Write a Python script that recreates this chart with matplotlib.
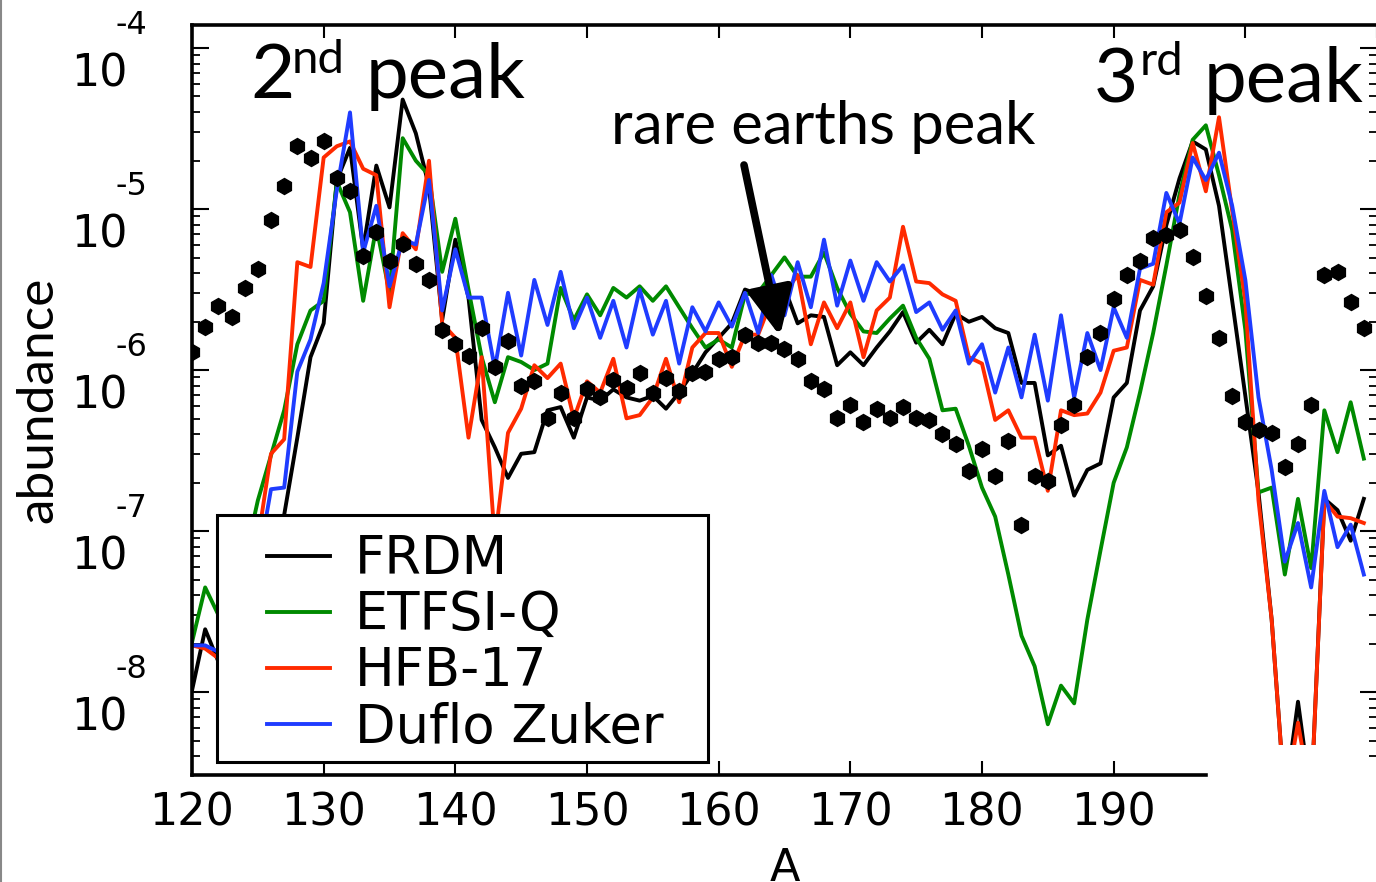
#!/usr/bin/env python3
"""
r-process abundance pattern, A = 120-209, four mass models vs solar
"""

import numpy as np
import matplotlib
matplotlib.use('Agg')
import matplotlib.pyplot as plt
import matplotlib.transforms as mtransforms
from matplotlib.patches import Rectangle
from matplotlib.lines import Line2D
from matplotlib.ticker import LogLocator, NullFormatter

# mass number A, one value per nucleus
mass_number = np.arange(120, 210)

# log10(abundance), A = 120 ... 209
solar_log10 = [
    -5.89, -5.73, -5.60, -5.67, -5.49, -5.37, -5.07, -4.86, -4.61, -4.68,
    -4.58, -4.81, -4.89, -5.29, -5.14, -5.32, -5.22, -5.34, -5.44, -5.75,
    -5.84, -5.91, -5.74, -5.98, -5.82, -6.10, -6.07, -6.30, -6.14, -6.30,
    -6.12, -6.17, -6.06, -6.11, -6.02, -6.14, -6.05, -6.13, -6.02, -6.01,
    -5.93, -5.92, -5.78, -5.83, -5.83, -5.87, -5.93, -6.07, -6.12, -6.30,
    -6.22, -6.32, -6.24, -6.30, -6.23, -6.30, -6.31, -6.40, -6.46, -6.63,
    -6.49, -6.66, -6.44, -6.96, -6.66, -6.69, -6.34, -6.22, -5.92, -5.77,
    -5.56, -5.41, -5.32, -5.18, -5.16, -5.13, -5.30, -5.54, -5.80, -6.16,
    -6.32, -6.37, -6.39, -6.60, -6.46, -6.22, -5.41, -5.39, -5.58, -5.74,
]

frdm_log10 = [
    -7.99, -7.61, -7.81, -7.77, -7.68, -7.49, -7.21, -6.90, -6.42, -5.92,
    -5.71, -4.82, -4.62, -5.25, -4.73, -4.99, -4.32, -4.53, -4.86, -5.69,
    -5.19, -5.55, -6.31, -6.48, -6.67, -6.52, -6.51, -6.25, -6.23, -6.42,
    -6.17, -6.19, -6.12, -6.17, -6.19, -6.16, -6.24, -6.14, -6.02, -5.89,
    -5.80, -5.71, -5.50, -5.53, -5.55, -5.49, -5.71, -5.66, -5.67, -5.97,
    -5.89, -5.97, -5.86, -5.76, -5.64, -5.83, -5.75, -5.84, -5.65, -5.70,
    -5.67, -5.74, -5.77, -6.08, -6.08, -6.53, -6.47, -6.78, -6.62, -6.58,
    -6.17, -6.08, -5.63, -5.48, -5.10, -4.81, -4.58, -4.63, -4.98, -5.57,
    -6.16, -6.76, -7.55, -8.67, -8.06, -8.67, -6.80, -6.87, -7.06, -6.80,
]

etfsi_q_log10 = [
    -7.69, -7.35, -7.52, -7.43, -7.18, -6.81, -6.53, -6.25, -5.84, -5.63,
    -5.57, -4.83, -5.02, -5.57, -5.11, -5.52, -4.56, -4.70, -4.79, -5.39,
    -5.06, -5.50, -5.92, -6.20, -5.92, -5.95, -6.00, -5.96, -5.49, -5.69,
    -5.53, -5.66, -5.49, -5.55, -5.48, -5.57, -5.48, -5.61, -5.74, -5.86,
    -5.81, -5.86, -5.53, -5.52, -5.41, -5.30, -5.42, -5.42, -5.27, -5.49,
    -5.65, -5.76, -5.77, -5.68, -5.60, -5.80, -5.93, -6.25, -6.24, -6.47,
    -6.73, -6.91, -7.27, -7.65, -7.84, -8.20, -7.96, -8.07, -7.55, -7.12,
    -6.70, -6.48, -6.14, -5.77, -5.35, -4.91, -4.57, -4.48, -4.79, -5.13,
    -5.75, -6.76, -6.73, -7.27, -6.80, -7.23, -6.25, -6.51, -6.20, -6.55,
]

hfb17_log10 = [
    -7.71, -7.73, -7.79, -7.68, -7.37, -7.06, -6.52, -6.43, -5.33, -5.36,
    -4.68, -4.61, -4.58, -4.75, -4.79, -5.61, -5.15, -5.25, -4.70, -5.71,
    -5.80, -6.42, -5.92, -7.06, -6.39, -6.24, -5.97, -6.05, -5.96, -6.30,
    -6.07, -6.14, -5.93, -6.30, -6.28, -6.17, -5.93, -6.20, -5.86, -5.77,
    -5.77, -5.98, -5.78, -5.78, -5.57, -5.52, -5.41, -5.84, -5.58, -5.74,
    -5.58, -5.92, -5.63, -5.55, -5.11, -5.45, -5.46, -5.53, -5.57, -5.92,
    -5.96, -6.31, -6.25, -6.42, -6.42, -6.75, -6.25, -6.28, -6.27, -6.14,
    -5.88, -5.86, -5.44, -5.47, -5.02, -4.96, -4.59, -4.89, -4.43, -5.01,
    -5.57, -6.81, -7.55, -8.67, -8.19, -8.67, -6.81, -6.91, -6.92, -6.95,
]

duflo_zuker_log10 = [
    -7.71, -7.71, -7.75, -7.68, -7.49, -7.21, -6.74, -6.73, -6.01, -5.81,
    -5.46, -4.88, -4.40, -5.27, -4.98, -5.48, -5.19, -5.22, -4.82, -5.63,
    -5.25, -5.55, -5.55, -5.99, -5.52, -5.91, -5.44, -5.72, -5.39, -5.74,
    -5.55, -5.80, -5.57, -5.86, -5.50, -5.78, -5.57, -5.96, -5.61, -5.76,
    -5.58, -5.73, -5.52, -5.77, -5.41, -5.66, -5.33, -5.61, -5.19, -5.60,
    -5.32, -5.57, -5.33, -5.45, -5.35, -5.64, -5.58, -5.75, -5.63, -5.96,
    -5.84, -6.14, -5.86, -6.17, -5.78, -6.19, -5.66, -6.17, -5.77, -6.00,
    -5.61, -5.80, -5.37, -5.34, -4.90, -5.09, -4.68, -4.82, -4.65, -4.98,
    -5.44, -6.17, -6.62, -7.19, -6.95, -7.35, -6.75, -7.10, -6.96, -7.27,
]

model_names = ['FRDM', 'ETFSI-Q', 'HFB-17', 'Duflo Zuker']
model_values = [frdm_log10, etfsi_q_log10, hfb17_log10, duflo_zuker_log10]
model_colors = ['#000000', '#008a00', '#ff2a00', '#1f3cff']

x_ticks = [120, 130, 140, 150, 160, 170, 180, 190]
top_ticks = [120, 130, 140, 150, 160, 170, 180, 190, 200, 210]
y_decades = [-8, -7, -6, -5, -4]

W, H = 1376, 882


def px_to_axes(px, py):
    """pixel position in the 1376x882 canvas -> axes fraction"""
    return (px - 192) / 1185.0, (775 - py) / 750.0


fig = plt.figure(figsize=(W / 100, H / 100), dpi=100)
fig.patch.set_facecolor('white')
ax = fig.add_axes([192 / W, 1 - 775 / H, 1185 / W, 750 / H])

# model curves, clipped a little above the frame like the original
clip = Rectangle((0, 0.04), 1, 0.96, transform=ax.transAxes, facecolor='none')
handles = []
for name, vals, col in zip(model_names, model_values, model_colors):
    line, = ax.plot(mass_number, 10.0 ** np.array(vals), color=col,
                    lw=2.8, label=name, zorder=2)
    line.set_clip_path(clip)
    handles.append(line)

# solar r-process abundances
ax.plot(mass_number, 10.0 ** np.array(solar_log10), linestyle='none',
        marker='h', ms=11.5, color='black', zorder=4)

ax.set_yscale('log')
ax.set_xlim(120, 210)
ax.set_ylim(10 ** -8.515, 10 ** -3.857)

# spines
for side in ['left', 'bottom']:
    ax.spines[side].set_linewidth(2.6)
ax.spines['top'].set_visible(False)
ax.spines['right'].set_visible(False)
ax.spines['bottom'].set_bounds(120, 197)

ax.set_xticks(x_ticks)
ax.set_xticklabels([str(t) for t in x_ticks])
ax.tick_params(axis='x', which='major', direction='in', length=10, width=1.5,
               top=False, pad=12, labelsize=32)
ax.yaxis.set_major_locator(LogLocator(base=10, numticks=20))
ax.yaxis.set_minor_locator(LogLocator(base=10, subs=np.arange(2, 10), numticks=50))
ax.yaxis.set_minor_formatter(NullFormatter())
ax.tick_params(axis='y', which='major', direction='in', length=12, width=1.5,
               left=True, right=True, labelleft=False)
ax.tick_params(axis='y', which='minor', direction='in', length=6, width=1.3,
               left=True, right=True)

top = ax.secondary_xaxis('top')
top.set_xticks(top_ticks)
top.tick_params(axis='x', direction='in', length=9, width=1.5, labeltop=False)
top.spines['top'].set_linewidth(2.6)

# y tick labels: "10" with a high exponent, like the original
trans = mtransforms.blended_transform_factory(fig.transFigure, ax.transData)
for e in y_decades:
    base_tr = mtransforms.offset_copy(trans, fig=fig, x=0, y=-38, units='dots')
    exp_tr = mtransforms.offset_copy(trans, fig=fig, x=0, y=14, units='dots')
    fig.text(128 / W, 10.0 ** e, '10', transform=base_tr, ha='right',
             va='baseline', fontsize=32, family='DejaVu Sans')
    fig.text(147 / W, 10.0 ** e, str(e), transform=exp_tr, ha='right',
             va='baseline', fontsize=23, family='DejaVu Sans')

fig.text(785 / W, 1 - 881 / H, 'A', ha='center', va='baseline', fontsize=32,
         family='DejaVu Sans')
fig.text(38 / W, 1 - 400 / H, 'abundance', rotation=90, ha='center',
         va='center', fontsize=37, family='Lato')

# peak labels
lab = dict(transform=ax.transAxes, va='baseline', ha='left', family='Lato',
           color='black', zorder=6)
ax.text(*px_to_axes(250, 98), '2', fontsize=55, **lab)
ax.text(*px_to_axes(292, 73), 'nd', fontsize=34, **lab)
ax.text(*px_to_axes(366, 98), 'peak', fontsize=55, **lab)
ax.text(*px_to_axes(1094, 102), '3', fontsize=55, **lab)
ax.text(*px_to_axes(1140, 75), 'rd', fontsize=34, **lab)
ax.text(*px_to_axes(1204, 102), 'peak', fontsize=55, **lab)
ax.text(*px_to_axes(611, 144), 'rare earths peak', fontsize=43, **lab)

ax.annotate('', xy=px_to_axes(780, 336), xytext=px_to_axes(744, 165),
            xycoords='axes fraction', textcoords='axes fraction',
            arrowprops=dict(arrowstyle='-|>,head_length=0.95,head_width=0.45',
                            lw=5.5, color='black', mutation_scale=30,
                            shrinkA=0, shrinkB=0),
            zorder=6)

# legend: white box with a black frame, entries on top
box = Rectangle((217 / W, 1 - 762 / H), (708 - 217) / W, (762 - 515) / H,
                transform=fig.transFigure, facecolor='white', edgecolor='black',
                lw=2.2, zorder=5)
fig.patches.append(box)
leg = fig.legend(handles, model_names, loc='upper left',
                 bbox_to_anchor=(267 / W, 1 - 533 / H), frameon=False,
                 borderpad=0, borderaxespad=0, handlelength=1.19,
                 handletextpad=0.47, labelspacing=0.08,
                 prop={'family': 'DejaVu Sans', 'size': 38})
leg.set_zorder(6)

# thin grey border on the left edge of the slide
fig.add_artist(Line2D([0.001, 0.001], [0, 1], color='#888888', lw=1.5,
                      transform=fig.transFigure))

plt.savefig('out.png', dpi=100)
